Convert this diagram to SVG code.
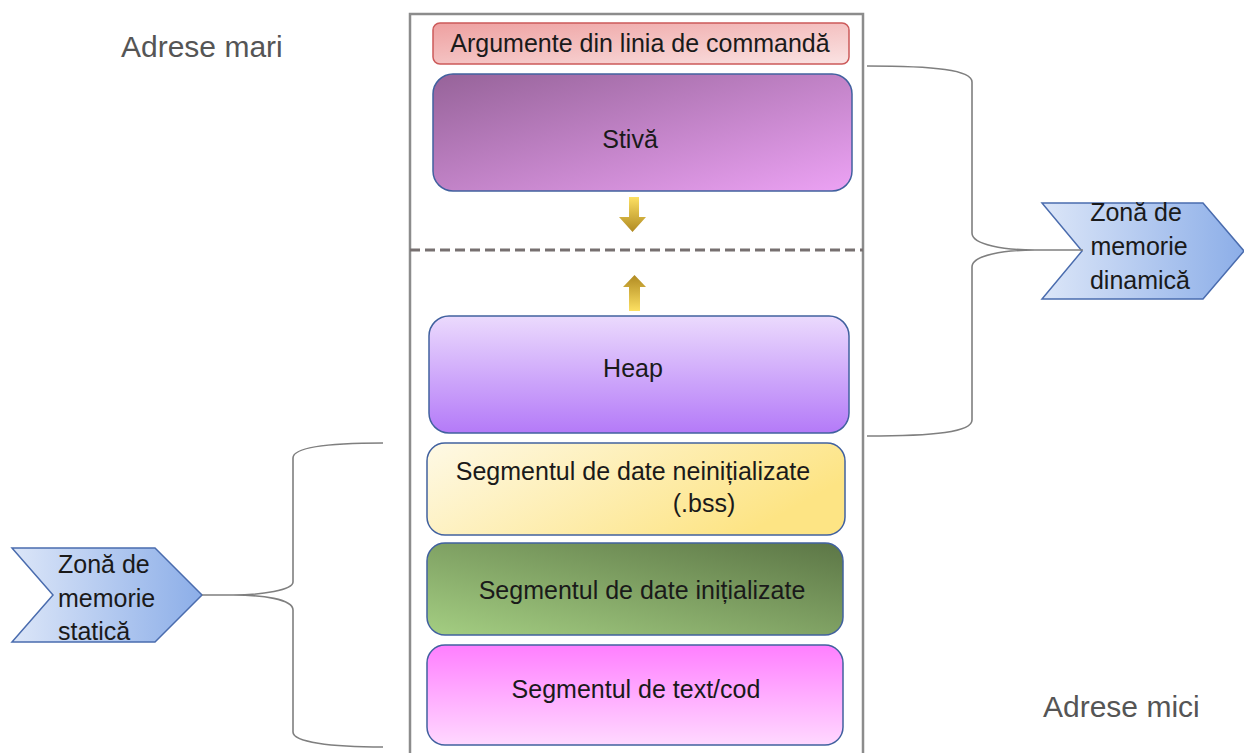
<svg xmlns="http://www.w3.org/2000/svg" width="1244" height="753" viewBox="0 0 1244 753">
<style>
  .t { font-family: "Liberation Sans", Arial, sans-serif; fill: #1a1a1a; }
  .box { font-size: 25px; }
  .lbl { font-size: 30px; fill: #555555; font-family: "Liberation Sans", Arial, sans-serif; }
  .chev { font-size: 25px; }
  .seg { stroke: #41619f; stroke-width: 1.5; }
  .brace { fill: none; stroke: #7f7f7f; stroke-width: 1.6; }
</style>
<defs>
  <linearGradient id="gArg" x1="0" y1="0" x2="1" y2="1">
    <stop offset="0" stop-color="#eea0a0"/>
    <stop offset="1" stop-color="#fae3e3"/>
  </linearGradient>
  <linearGradient id="gStack" x1="0" y1="0" x2="1" y2="1">
    <stop offset="0" stop-color="#966399"/>
    <stop offset="1" stop-color="#eca2f4"/>
  </linearGradient>
  <linearGradient id="gHeap" x1="0" y1="0" x2="0" y2="1">
    <stop offset="0" stop-color="#ebdafd"/>
    <stop offset="1" stop-color="#b47af8"/>
  </linearGradient>
  <linearGradient id="gBss" x1="0" y1="0" x2="1" y2="0.4">
    <stop offset="0" stop-color="#fef9e6"/>
    <stop offset="1" stop-color="#fde484"/>
  </linearGradient>
  <linearGradient id="gData" x1="1" y1="0" x2="0" y2="1">
    <stop offset="0" stop-color="#5c7646"/>
    <stop offset="1" stop-color="#a4ce82"/>
  </linearGradient>
  <linearGradient id="gText" x1="0" y1="0" x2="0" y2="1">
    <stop offset="0" stop-color="#ff7fff"/>
    <stop offset="1" stop-color="#ffd8ff"/>
  </linearGradient>
  <linearGradient id="gChev" x1="0" y1="0" x2="1" y2="0">
    <stop offset="0" stop-color="#dce6f8"/>
    <stop offset="1" stop-color="#8caee8"/>
  </linearGradient>
  <linearGradient id="gDown" x1="0" y1="0" x2="0" y2="1">
    <stop offset="0" stop-color="#fde062"/>
    <stop offset="1" stop-color="#b08a22"/>
  </linearGradient>
  <linearGradient id="gUp" x1="0" y1="1" x2="0" y2="0">
    <stop offset="0" stop-color="#fde062"/>
    <stop offset="1" stop-color="#b08a22"/>
  </linearGradient>
</defs>

<rect width="1244" height="753" fill="#ffffff"/>

<g id="labels">
  <text class="lbl" x="121" y="57">Adrese mari</text>
  <text class="lbl" x="1043" y="717">Adrese mici</text>
</g>

<g id="memory-frame">
  <path d="M410,760 L410,14 L863,14 L863,760" fill="none" stroke="#8c8c8c" stroke-width="2.5"/>
  <line x1="410" y1="250" x2="863" y2="250" stroke="#777070" stroke-width="3" stroke-dasharray="10,5"/>
</g>

<g id="node-args">
  <rect x="433" y="23" width="416" height="41" rx="7" fill="url(#gArg)" stroke="#cc5a5a" stroke-width="1.5"/>
  <text class="t box" x="640" y="52" text-anchor="middle">Argumente din linia de commandă</text>
</g>

<g id="node-stack">
  <rect x="433" y="74" width="419" height="117" rx="20" fill="url(#gStack)" class="seg"/>
  <text class="t box" x="630" y="148" text-anchor="middle">Stivă</text>
</g>

<g id="node-heap">
  <rect x="429" y="316" width="420" height="117" rx="20" fill="url(#gHeap)" class="seg"/>
  <text class="t box" x="633" y="377" text-anchor="middle">Heap</text>
</g>

<g id="node-bss">
  <rect x="427" y="443" width="418" height="92" rx="18" fill="url(#gBss)" class="seg"/>
  <text class="t box" x="633" y="480" text-anchor="middle">Segmentul de date neinițializate</text>
  <text class="t box" x="704" y="512" text-anchor="middle">(.bss)</text>
</g>

<g id="node-data">
  <rect x="427" y="543" width="416" height="92" rx="18" fill="url(#gData)" class="seg"/>
  <text class="t box" x="642" y="599" text-anchor="middle">Segmentul de date inițializate</text>
</g>

<g id="node-text">
  <rect x="427" y="645" width="416" height="100" rx="18" fill="url(#gText)" class="seg"/>
  <text class="t box" x="636" y="698" text-anchor="middle">Segmentul de text/cod</text>
</g>

<g id="node-dynamic">
  <polygon points="1042,203 1203,203 1244,251 1203,299 1042,299 1082,251" fill="url(#gChev)" stroke="#4a6cae" stroke-width="1.5"/>
  <text class="t chev" x="1136" y="221" text-anchor="middle">Zonă de</text>
  <text class="t chev" x="1139" y="255" text-anchor="middle">memorie</text>
  <text class="t chev" x="1140" y="289" text-anchor="middle">dinamică</text>
</g>

<g id="node-static">
  <polygon points="12,548 155,548 202,595 155,642 12,642 53,595" fill="url(#gChev)" stroke="#4a6cae" stroke-width="1.5"/>
  <text class="t chev" x="58" y="573">Zonă de</text>
  <text class="t chev" x="58" y="607">memorie</text>
  <text class="t chev" x="58" y="640">statică</text>
</g>

<g id="connectors">
  <polygon points="629,197 639,197 639,217 646,217 632.5,232 619,217 629,217" fill="url(#gDown)"/>
  <polygon points="629,311 640,311 640,287 646,287 634.5,275 623,287 629,287" fill="url(#gUp)"/>
  <path class="brace" d="M867,66 C935,66 972,70 972,82 L972,233 C972,245 1005,250 1035,250 L1083,250 M1035,250 C1005,250 972,255 972,267 L972,420 C972,432 935,436 867,436"/>
  <path class="brace" d="M383,443 C330,443 293,447 293,458 L293,582 C293,590 262,595 233,595 L202,595 M233,595 C262,595 293,599 293,610 L293,732 C293,742 330,747 383,747"/>
</g>
</svg>
